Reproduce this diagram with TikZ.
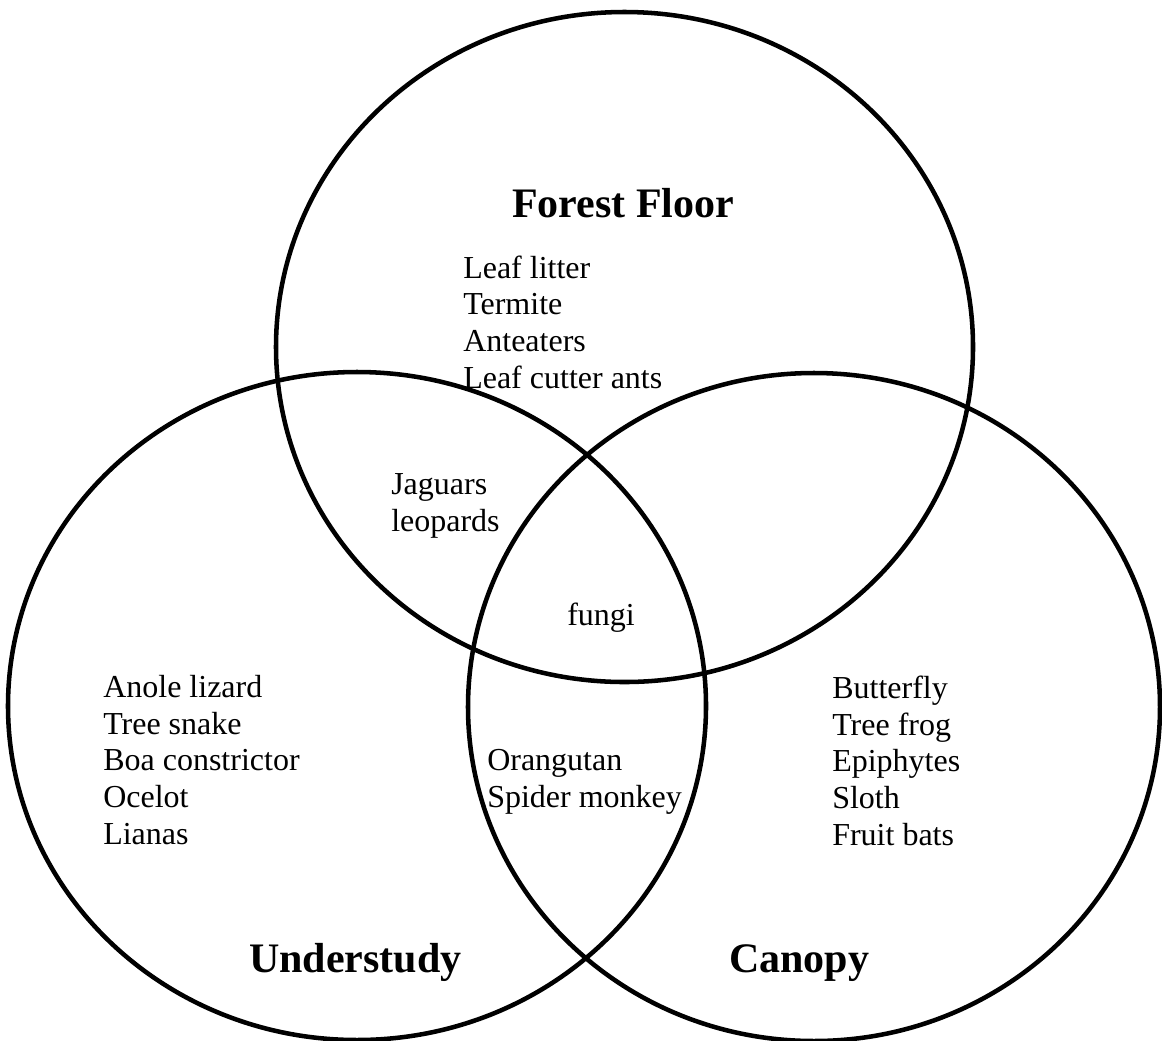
\documentclass[tikz,border=0pt]{standalone}
\usepackage{fontspec}
\setmainfont{Liberation Serif}
\usepackage{tikz}

\begin{document}
\begin{tikzpicture}[x=0.75pt,y=0.75pt,yscale=-1,xscale=1,
  zone/.style={draw, line width=3.4pt},
  item/.style={anchor=base west, inner sep=0pt, align=left, font=\fontsize{24}{27.5}\selectfont},
  zonetitle/.style={anchor=base west, inner sep=0pt, font=\fontsize{31.5}{36}\selectfont\bfseries}]
\path[use as bounding box] (0,0) rectangle (1162,1040);

%Shape: Ellipse [Forest Floor]
\draw [zone] (624.5,347) ellipse (348.5 and 335);
%Shape: Ellipse [Understudy]
\draw [zone] (357,706) ellipse (349 and 334);
%Shape: Ellipse [Canopy]
\draw [zone] (814,707) ellipse (346 and 334);

% Text Node (anchored at the baseline of the last line)
\node [zonetitle] (floor) at (512,217) {Forest Floor};
% Text Node
\node [zonetitle] (under) at (249,972) {Understudy};
% Text Node
\node [zonetitle] (canopy) at (729,972) {Canopy};
% Text Node
\node [item] (flooritems) at (463,388) {Leaf litter\\Termite\\Anteaters\\Leaf cutter ants};
% Text Node
\node [item] (cats) at (391,531) {Jaguars\\leopards};
% Text Node
\node [item] (fungi) at (567,625) {fungi};
% Text Node
\node [item] (underitems) at (103,844) {Anole lizard\\Tree snake\\Boa constrictor\\Ocelot\\Lianas};
% Text Node
\node [item] (apes) at (487,807) {Orangutan\\Spider monkey};
% Text Node
\node [item] (canopyitems) at (832,845) {Butterfly\\Tree frog\\Epiphytes\\Sloth\\Fruit bats};
\end{tikzpicture}
\end{document}
